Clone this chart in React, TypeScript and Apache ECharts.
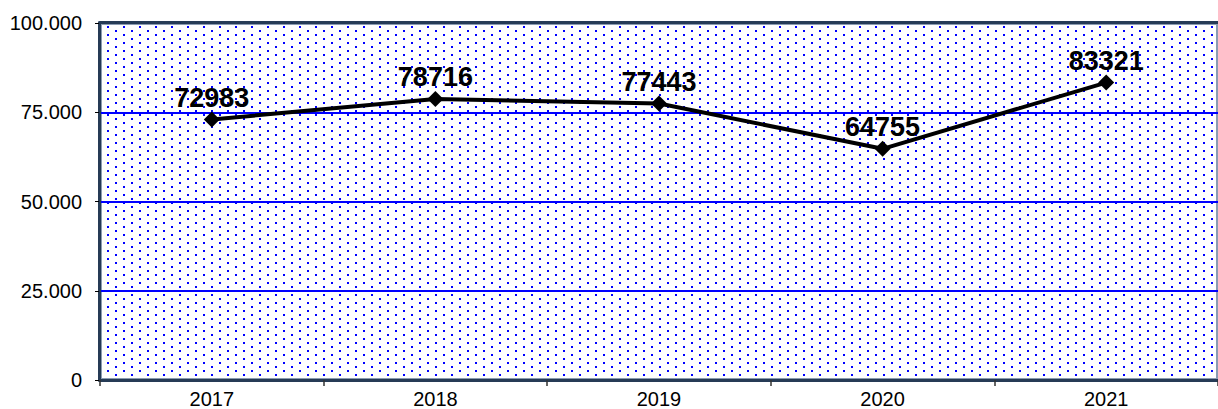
import React, { useEffect, useRef } from "react";
import * as echarts from "echarts";

const categories = ["2017", "2018", "2019", "2020", "2021"];
const values = [72983, 78716, 77443, 64755, 83321];
const yTicks = [0, 25000, 50000, 75000, 100000];

const FONT = "'Liberation Sans', Arial, sans-serif";
const DARK = "#263b56";
const LIGHT = "#8c9cb2";

function fmt(v: number): string {
  return String(v).replace(/\B(?=(\d{3})+(?!\d))/g, ".");
}

function makeDots(): HTMLCanvasElement {
  const c = document.createElement("canvas");
  c.width = 16;
  c.height = 8;
  const ctx = c.getContext("2d")!;
  ctx.fillStyle = "#ffffff";
  ctx.fillRect(0, 0, 16, 8);
  ctx.fillStyle = "#0000ff";
  ctx.fillRect(3, 6, 2, 2);
  ctx.fillRect(11, 2, 2, 2);
  return c;
}

export default function App() {
  const ref = useRef<HTMLDivElement>(null);
  useEffect(() => {
    if (!ref.current) return;
    const chart = echarts.init(ref.current, null, { renderer: "svg" });
    const dots = makeDots();
    chart.setOption({
      animation: false,
      backgroundColor: "#ffffff",
      grid: {
        show: true,
        left: 100,
        top: 23,
        bottom: 26.6,
        right: -8.5,
        backgroundColor: { image: dots, repeat: "repeat" } as any,
        borderColor: LIGHT,
        borderWidth: 4,
      },
      xAxis: [
        {
          type: "category",
          data: categories,
          position: "bottom",
          offset: 1,
          axisLine: { show: true, lineStyle: { color: DARK, width: 3 } },
          axisTick: { show: true, length: 6, lineStyle: { color: "#333", width: 1.5 } },
          axisLabel: { color: "#000", fontSize: 20, fontFamily: FONT, margin: 8 },
          splitLine: { show: false },
        },
        {
          type: "category",
          data: categories,
          position: "top",
          offset: 1,
          axisLine: { show: true, lineStyle: { color: DARK, width: 3 } },
          axisTick: { show: false },
          axisLabel: { show: false },
        },
      ],
      yAxis: {
        type: "value",
        min: yTicks[0],
        max: yTicks[yTicks.length - 1],
        interval: yTicks[1] - yTicks[0],
        offset: 1,
        axisLine: { show: true, lineStyle: { color: DARK, width: 3 } },
        axisTick: { show: true, length: 4, lineStyle: { color: "#000", width: 1 } },
        axisLabel: {
          color: "#000",
          fontSize: 20,
          fontFamily: FONT,
          margin: 17,
          formatter: (v: number) => fmt(v),
        },
        splitLine: {
          show: true,
          showMinLine: false,
          showMaxLine: false,
          lineStyle: { color: "#0000ff", width: 2 },
        },
      },
      series: [
        {
          type: "line",
          data: values,
          xAxisIndex: 0,
          symbol: "diamond",
          symbolSize: 16,
          itemStyle: { color: "#000" },
          lineStyle: { color: "#000", width: 4 },
          label: {
            show: true,
            position: "top",
            distance: 0,
            color: "#000",
            fontSize: 27,
            fontWeight: "bold",
            fontFamily: FONT,
          },
          z: 5,
        },
      ],
    });
    return () => chart.dispose();
  }, []);
  return (
    <div
      ref={ref}
      style={{ position: "absolute", left: 0, top: 0, width: 1218, height: 409 }}
    />
  );
}
